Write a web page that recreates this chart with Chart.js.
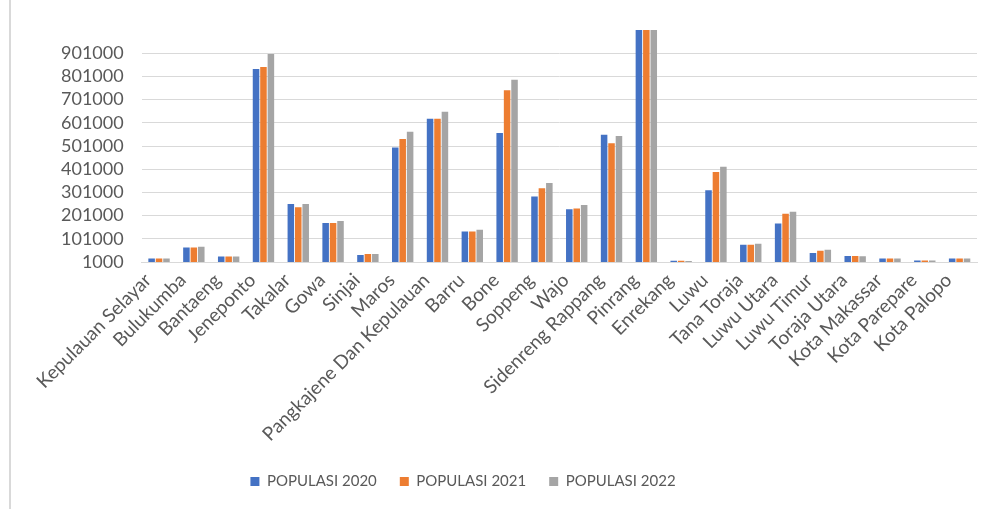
<!DOCTYPE html>
<html>
<head>
<meta charset="utf-8">
<script src="https://cdn.jsdelivr.net/npm/chart.js@4"></script>
<style>
  html, body { margin: 0; padding: 0; background: #fff; }
  #wrap { position: relative; width: 990px; height: 509px; }
  #edge { position: absolute; left: 9px; top: 0; width: 2px; height: 509px; background: #d9d9d9; }
  canvas { position: absolute; left: 0; top: 0; }
</style>
</head>
<body>
<div id="wrap">
  <canvas id="chart" width="990" height="509"></canvas>
  <div id="edge"></div>
</div>
<script>
const categories = [
  "Kepulauan Selayar", "Bulukumba", "Bantaeng", "Jeneponto", "Takalar", "Gowa",
  "Sinjai", "Maros", "Pangkajene Dan Kepulauan", "Barru", "Bone", "Soppeng",
  "Wajo", "Sidenreng Rappang", "Pinrang", "Enrekang", "Luwu", "Tana Toraja",
  "Luwu Utara", "Luwu Timur", "Toraja Utara", "Kota Makassar", "Kota Parepare", "Kota Palopo"
];

const pop2020 = [16000, 63000, 25000, 833000, 251000, 169000, 31000, 494000, 618000, 132000, 557000, 283000,
  228000, 549000, 1001000, 6000, 310000, 75000, 167000, 40000, 27000, 16000, 7000, 16000];
const pop2021 = [16000, 63000, 25000, 842000, 237000, 169000, 35000, 531000, 618000, 132000, 741000, 319000,
  232000, 513000, 1001000, 6000, 389000, 75000, 209000, 50000, 27000, 16000, 7000, 16000];
const pop2022 = [16000, 67000, 25000, 898000, 251000, 178000, 35000, 562000, 649000, 140000, 787000, 342000,
  247000, 544000, 1001000, 5000, 412000, 80000, 218000, 54000, 26000, 16000, 7000, 16000];

const yTicks = [1000, 101000, 201000, 301000, 401000, 501000, 601000, 701000, 801000, 901000];

const textColor = "#595959";
const gridColor = "#d9d9d9";
const font = "Lato, 'Open Sans', sans-serif";

// legend sits a bit left of the canvas centre in the original
const shiftLegend = {
  id: "shiftLegend",
  afterLayout(chart) {
    chart.legend.left -= 47;
    chart.legend.right -= 47;
  }
};

new Chart(document.getElementById("chart"), {
  type: "bar",
  data: {
    labels: categories,
    datasets: [
      { label: "POPULASI 2020", data: pop2020, backgroundColor: "#4472C4" },
      { label: "POPULASI 2021", data: pop2021, backgroundColor: "#ED7D31" },
      { label: "POPULASI 2022", data: pop2022, backgroundColor: "#A5A5A5" }
    ]
  },
  plugins: [shiftLegend],
  options: {
    responsive: false,
    animation: false,
    datasets: {
      bar: {
        categoryPercentage: 0.64,
        barPercentage: 0.88,
        borderWidth: 0
      }
    },
    layout: { padding: { left: 43, right: 13, top: 30, bottom: 10 } },
    scales: {
      x: {
        grid: { display: false, drawTicks: false },
        border: { color: gridColor, width: 1 },
        afterFit: (scale) => { scale.height = 189; },
        ticks: {
          color: textColor,
          font: { family: font, size: 19 },
          minRotation: 45,
          maxRotation: 45,
          autoSkip: false,
          padding: 7,
          labelOffset: -11
        }
      },
      y: {
        min: 1000,
        max: 1001000,
        afterBuildTicks: (scale) => {
          scale.ticks = yTicks.map(v => ({ value: v }));
        },
        grid: { color: gridColor, lineWidth: 1, drawTicks: false },
        border: { display: false },
        ticks: {
          color: textColor,
          font: { family: font, size: 18 },
          padding: 18,
          callback: (v) => String(v)
        }
      }
    },
    plugins: {
      legend: {
        position: "bottom",
        labels: {
          color: textColor,
          font: { family: font, size: 15 },
          boxWidth: 9,
          boxHeight: 9,
          padding: 23
        }
      },
      tooltip: { enabled: false }
    }
  }
});
</script>
</body>
</html>
